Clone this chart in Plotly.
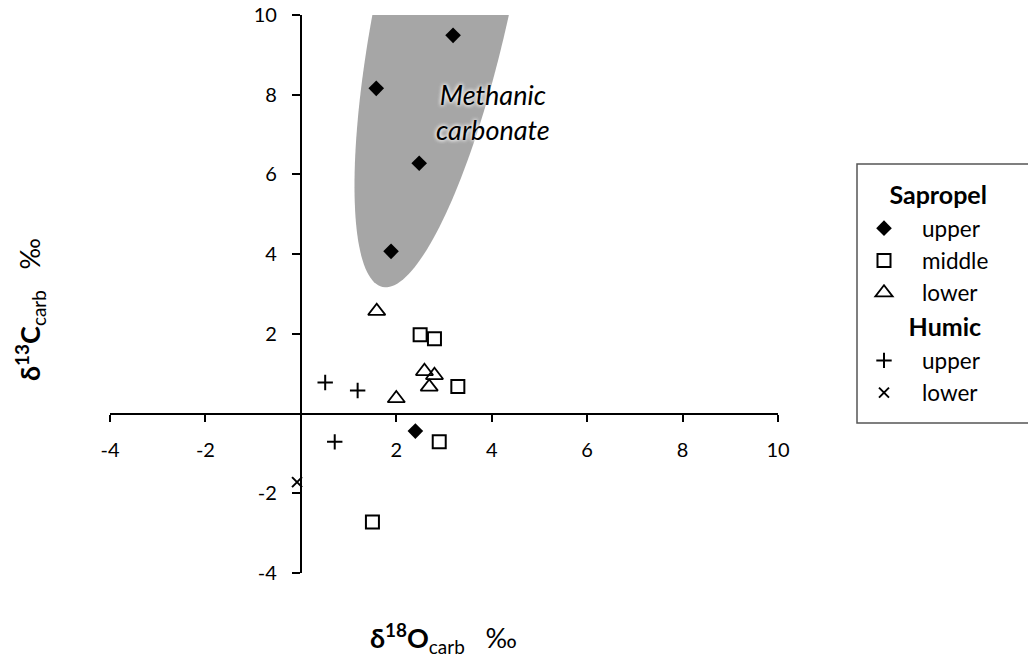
import numpy as np
import plotly.graph_objects as go

# ---------------- data ----------------
sap_upper_x = [3.19, 1.58, 2.48, 1.89, 2.40]
sap_upper_y = [9.49, 8.16, 6.28, 4.07, -0.44]
sap_middle_x = [2.50, 2.80, 3.29, 2.90, 1.50]
sap_middle_y = [1.98, 1.88, 0.68, -0.71, -2.72]
sap_lower_x = [1.59, 2.59, 2.80, 2.69, 2.00]
sap_lower_y = [2.57, 1.06, 0.96, 0.67, 0.38]
hum_upper_x = [0.51, 1.19, 0.71]
hum_upper_y = [0.78, 0.58, -0.71]
hum_lower_x = [-0.08]
hum_lower_y = [-1.72]

x_ticks = [-4, -2, 2, 4, 6, 8, 10]
y_ticks = [-4, -2, 2, 4, 6, 8, 10]
x_range = [-4, 10]
y_range = [-4, 10]

# ---------------- layout geometry ----------------
W, H = 1028, 660
ML, MR, MT, MB = 110, 250, 15, 87
PW, PH = W - ML - MR, H - MT - MB
sx = PW / (x_range[1] - x_range[0])   # px per x unit
sy = PH / (y_range[1] - y_range[0])   # px per y unit

def px_to_paper_x(px):
    return (px - ML) / PW

def px_to_paper_y(py):
    return 1 - (py - MT) / PH

FONT = "Lato"
NB = "\u00a0"

# ---------------- "Methanic carbonate" field (tilted ellipse) ----------------
e_cx, e_cy = 3.02, 10.54          # centre (data units)
e_a, e_b = 300, 67                # semi-axes (pixels)
e_th = np.radians(12)             # tilt of major axis from vertical
t = np.linspace(0, 2 * np.pi, 181)
ex = e_cx + (e_a * np.cos(t) * np.sin(e_th) + e_b * np.sin(t) * np.cos(e_th)) / sx
ey = e_cy + (e_a * np.cos(t) * np.cos(e_th) - e_b * np.sin(t) * np.sin(e_th)) / sy
path = "M " + " L ".join(f"{a:.4f},{b:.4f}" for a, b in zip(ex, ey)) + " Z"

fig = go.Figure()

common = dict(mode="markers", hoverinfo="x+y")
fig.add_trace(go.Scatter(x=sap_upper_x, y=sap_upper_y, name="upper",
                         legendgroup="sap",
                         legendgrouptitle=dict(text=NB * 6 + "<b>Sapropel</b>",
                                               font=dict(family=FONT, size=25, color="black")),
                         marker=dict(symbol="diamond", size=12, color="black",
                                     line=dict(width=0)), **common))
fig.add_trace(go.Scatter(x=sap_middle_x, y=sap_middle_y, name="middle",
                         legendgroup="sap",
                         marker=dict(symbol="square-open", size=13, color="black",
                                     line=dict(width=2)), **common))
fig.add_trace(go.Scatter(x=sap_lower_x, y=sap_lower_y, name="lower",
                         legendgroup="sap",
                         marker=dict(symbol="triangle-up-open", size=15, color="black",
                                     line=dict(width=1.8)), **common))
fig.add_trace(go.Scatter(x=hum_upper_x, y=hum_upper_y, name="upper",
                         legendgroup="hum",
                         legendgrouptitle=dict(text=NB * 9 + "<b>Humic</b>",
                                               font=dict(family=FONT, size=25, color="black")),
                         marker=dict(symbol="cross-thin", size=11, color="black",
                                     line=dict(width=2, color="black")), **common))
fig.add_trace(go.Scatter(x=hum_lower_x, y=hum_lower_y, name="lower",
                         legendgroup="hum",
                         marker=dict(symbol="x-thin", size=10, color="black",
                                     line=dict(width=2, color="black")), **common))

axis_common = dict(showline=True, linecolor="black", linewidth=2,
                   ticks="outside", tickwidth=2, tickcolor="black",
                   showgrid=False, zeroline=False, anchor="free", automargin=False,
                   tickfont=dict(family=FONT, size=20, color="black"),
                   domain=[0, 1], fixedrange=True)

fig.update_layout(
    width=W, height=H,
    margin=dict(l=ML, r=MR, t=MT, b=MB, pad=0, autoexpand=False),
    paper_bgcolor="white", plot_bgcolor="white",
    font=dict(family=FONT, color="black"),
    xaxis=dict(range=x_range, tickvals=x_ticks, ticktext=[str(v) for v in x_ticks],
               ticklen=7,
               position=(0 - y_range[0]) / (y_range[1] - y_range[0]),
               ticklabelstandoff=11, **axis_common),
    yaxis=dict(range=y_range, tickvals=y_ticks, ticktext=[str(v) for v in y_ticks],
               ticklen=8,
               position=(0 - x_range[0]) / (x_range[1] - x_range[0]),
               ticklabelstandoff=11, **axis_common),
    showlegend=True,
    legend=dict(x=px_to_paper_x(846), xanchor="left",
                y=px_to_paper_y(171.5), yanchor="top",
                bgcolor="rgba(0,0,0,0)", borderwidth=0,
                font=dict(family=FONT, size=22.5, color="black"),
                tracegroupgap=0, traceorder="grouped", itemwidth=66),
    shapes=[
        dict(type="path", path=path, xref="x", yref="y", layer="below",
             fillcolor="#a6a6a6", line=dict(width=0)),
        dict(type="rect", xref="paper", yref="paper",
             x0=px_to_paper_x(857), x1=1.6,
             y0=px_to_paper_y(423), y1=px_to_paper_y(164),
             line=dict(color="#555555", width=1.5), fillcolor="rgba(0,0,0,0)"),
    ],
    annotations=[
        dict(text="<i>Methanic<br>carbonate</i>", x=(493 - 300.6) / sx, y=(413.3 - 112) / sy,
             xref="x", yref="y", showarrow=False,
             font=dict(family=FONT, size=27, color="black",
                       shadow="0px 0px 4px white, 0px 0px 4px white")),
        dict(text="<b>δ<sup>18</sup>O</b><sub>carb</sub>" + NB * 3 + "‰",
             x=px_to_paper_x(443), y=px_to_paper_y(638), xref="paper", yref="paper",
             showarrow=False, xanchor="center", yanchor="middle",
             font=dict(family=FONT, size=27, color="black")),
        dict(text="<b>δ<sup>13</sup>C</b><sub>carb</sub>" + NB * 3 + "‰",
             x=px_to_paper_x(30), y=px_to_paper_y(310), xref="paper", yref="paper",
             showarrow=False, xanchor="center", yanchor="middle", textangle=-90,
             font=dict(family=FONT, size=27, color="black")),
    ],
)

fig.write_html("out.html", config={"displayModeBar": False, "responsive": False},
               post_script="document.body.style.margin='0px';document.body.style.overflow='hidden';")
